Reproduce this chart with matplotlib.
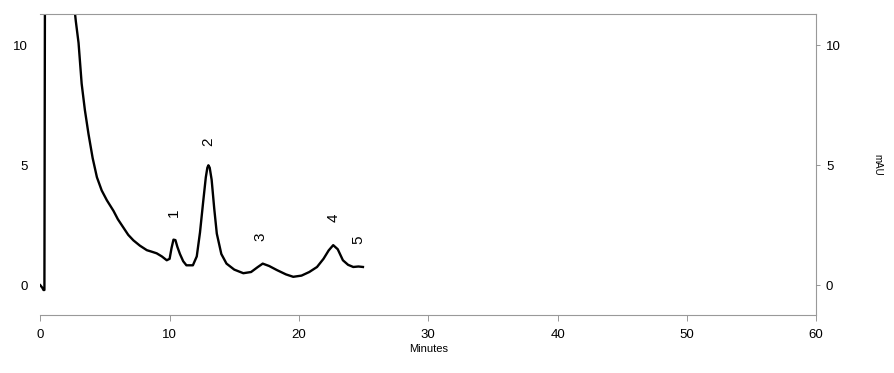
import matplotlib
matplotlib.use("Agg")
import matplotlib.pyplot as plt

# chromatogram trace (minutes, mAU)
minutes = [0.0, 0.15, 0.25, 0.32, 0.36, 2.55, 2.75, 2.96, 3.2, 3.45, 3.73, 4.05, 4.38,
           4.75, 5.15, 5.66, 6.0, 6.43, 6.8, 7.2, 7.7, 8.24, 8.6, 9.0, 9.4, 9.78,
           10.0, 10.15, 10.3, 10.45, 10.6, 10.8, 11.05, 11.3, 11.8, 12.1, 12.35, 12.6,
           12.8, 12.92, 13.0, 13.1, 13.25, 13.45, 13.65, 14.0, 14.4, 15.0, 15.7, 16.3,
           16.8, 17.2, 17.7, 18.3, 19.0, 19.56, 20.2, 20.8, 21.4, 21.9, 22.3, 22.65,
           23.0, 23.4, 23.8, 24.2, 24.6, 24.95]
mau = [0.0, -0.1, -0.2, -0.2, 12.0, 12.0, 11.0, 10.1, 8.4, 7.3, 6.3, 5.3, 4.5,
       3.95, 3.54, 3.1, 2.75, 2.4, 2.1, 1.87, 1.65, 1.46, 1.4, 1.33, 1.2, 1.04,
       1.1, 1.55, 1.9, 1.88, 1.6, 1.3, 1.0, 0.83, 0.83, 1.2, 2.2, 3.5, 4.5, 4.9,
       5.0, 4.9, 4.4, 3.2, 2.15, 1.3, 0.9, 0.65, 0.5, 0.55, 0.75, 0.9, 0.8, 0.63,
       0.45, 0.35, 0.4, 0.55, 0.76, 1.1, 1.45, 1.67, 1.5, 1.04, 0.85, 0.76, 0.78,
       0.76]

peak_names = ["1", "2", "3", "4", "5"]
peak_x = [10.3, 13.0, 17.0, 22.65, 24.6]
peak_y = [3.0, 6.0, 2.0, 2.8, 1.9]

x_ticks = [0, 10, 20, 30, 40, 50, 60]
y_ticks = [0, 5, 10]

plt.rcParams['font.family'] = ['Liberation Sans Narrow', 'Liberation Sans', 'DejaVu Sans']

fig = plt.figure(figsize=(8.95, 3.73), dpi=100)
ax = fig.add_axes([0.045, 0.155, 0.867, 0.807])
ax.plot(minutes, mau, color='black', lw=1.7)

for name, px, py in zip(peak_names, peak_x, peak_y):
    ax.text(px, py, name, rotation=90, ha='center', va='center', fontsize=11)

ax.set_xlim(0, 60)
ax.set_ylim(-1.25, 11.3)
ax.set_xticks(x_ticks)
ax.set_yticks(y_ticks)
ax.tick_params(axis='x', length=4, width=0.6, color='#888888', labelsize=9.5, pad=6)
ax.tick_params(axis='y', length=0, labelsize=9.5, pad=9)
for s in ax.spines.values():
    s.set_color('#999999')
    s.set_linewidth(0.8)
ax.spines['left'].set_visible(False)
ax.set_xlabel('Minutes', fontsize=8, labelpad=2)

ax2 = ax.twinx()
ax2.set_ylim(ax.get_ylim())
ax2.set_yticks(y_ticks)
ax2.tick_params(axis='y', length=3, width=0.6, color='#888888', labelsize=9.5, pad=4)
for s in ax2.spines.values():
    s.set_visible(False)
ax2.set_ylabel('mAU', rotation=270, fontsize=7, labelpad=30)

fig.savefig('out.png', dpi=100)
